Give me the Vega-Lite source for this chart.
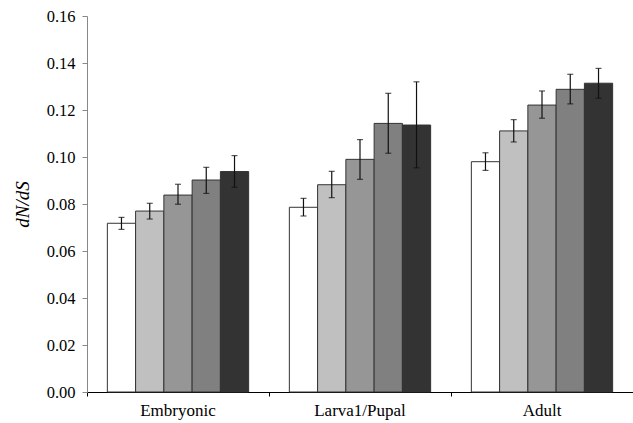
{
  "$schema": "https://vega.github.io/schema/vega-lite/v6.json",
  "width": 546,
  "height": 376,
  "autosize": "none",
  "padding": {"left": 87, "top": 16, "right": 0, "bottom": 31},
  "background": "white",
  "config": {"view": {"stroke": null}, "font": "Liberation Serif",
             "axis": {"labelFont": "Liberation Serif", "titleFont": "Liberation Serif"}},
  "data": {"values": [
    {"stage": "Embryonic", "cls": 1, "v": 0.0718, "lo": 0.0692, "hi": 0.0743},
    {"stage": "Embryonic", "cls": 2, "v": 0.0770, "lo": 0.0736, "hi": 0.0803},
    {"stage": "Embryonic", "cls": 3, "v": 0.0838, "lo": 0.0799, "hi": 0.0884},
    {"stage": "Embryonic", "cls": 4, "v": 0.0902, "lo": 0.0845, "hi": 0.0956},
    {"stage": "Embryonic", "cls": 5, "v": 0.0938, "lo": 0.0871, "hi": 0.1006},
    {"stage": "Larva1/Pupal", "cls": 1, "v": 0.0786, "lo": 0.0749, "hi": 0.0824},
    {"stage": "Larva1/Pupal", "cls": 2, "v": 0.0882, "lo": 0.0827, "hi": 0.0939},
    {"stage": "Larva1/Pupal", "cls": 3, "v": 0.0990, "lo": 0.0905, "hi": 0.1074},
    {"stage": "Larva1/Pupal", "cls": 4, "v": 0.1143, "lo": 0.1016, "hi": 0.1271},
    {"stage": "Larva1/Pupal", "cls": 5, "v": 0.1136, "lo": 0.0954, "hi": 0.1320},
    {"stage": "Adult", "cls": 1, "v": 0.0980, "lo": 0.0943, "hi": 0.1018},
    {"stage": "Adult", "cls": 2, "v": 0.1111, "lo": 0.1064, "hi": 0.1159},
    {"stage": "Adult", "cls": 3, "v": 0.1221, "lo": 0.1165, "hi": 0.1281},
    {"stage": "Adult", "cls": 4, "v": 0.1288, "lo": 0.1226, "hi": 0.1352},
    {"stage": "Adult", "cls": 5, "v": 0.1314, "lo": 0.1250, "hi": 0.1377}
  ]},
  "resolve": {"axis": {"x": "independent"}},
  "layer": [
    {
      "mark": {"type": "bar", "stroke": "#333333", "strokeWidth": 1},
      "encoding": {
        "x": {"field": "stage", "type": "nominal", "sort": null,
              "scale": {"paddingInner": 0, "paddingOuter": 0},
              "axis": {"title": null, "labelAngle": 0, "ticks": false, "domainColor": "#000000",
                       "labelFontSize": 17, "labelColor": "#000000",
                       "labelPadding": 10, "orient": "bottom"}},
        "xOffset": {"field": "cls", "type": "nominal",
                    "scale": {"paddingInner": 0, "paddingOuter": 0.72}},
        "y": {"field": "v", "type": "quantitative",
              "scale": {"domain": [0, 0.16], "nice": false},
              "axis": {"values": [0, 0.02, 0.04, 0.06, 0.08, 0.1, 0.12, 0.14, 0.16], "format": ".2f",
                       "grid": false, "domainColor": "#888888", "tickColor": "#888888", "tickSize": 5,
                       "labelFontSize": 16.5, "labelColor": "#000000",
                       "labelPadding": 7,
                       "title": "dN/dS", "titleFontStyle": "italic",
                       "titleFontWeight": "normal", "titleFontSize": 19, "titleColor": "#000000",
                       "titlePadding": 14}},
        "fill": {"field": "cls", "type": "nominal",
                 "scale": {"domain": [1, 2, 3, 4, 5], "range": ["#ffffff", "#c0c0c0", "#969696", "#808080", "#333333"]},
                 "legend": null}
      }
    },
    {
      "mark": {"type": "rule", "color": "#111111", "strokeWidth": 1.2},
      "encoding": {
        "x": {"field": "stage", "type": "nominal", "sort": null,
              "axis": {"title": null, "labels": false, "domain": false, "ticks": true, "bandPosition": 0,
                       "tickColor": "#000000", "tickSize": 4, "orient": "bottom"}},
        "xOffset": {"field": "cls", "type": "nominal"},
        "y": {"field": "lo", "type": "quantitative"},
        "y2": {"field": "hi"}
      }
    },
    {
      "mark": {"type": "tick", "color": "#111111", "thickness": 1.2, "size": 6},
      "encoding": {
        "x": {"field": "stage", "type": "nominal", "sort": null, "axis": null},
        "xOffset": {"field": "cls", "type": "nominal"},
        "y": {"field": "lo", "type": "quantitative"}
      }
    },
    {
      "mark": {"type": "tick", "color": "#111111", "thickness": 1.2, "size": 6},
      "encoding": {
        "x": {"field": "stage", "type": "nominal", "sort": null, "axis": null},
        "xOffset": {"field": "cls", "type": "nominal"},
        "y": {"field": "hi", "type": "quantitative"}
      }
    }
  ]
}
